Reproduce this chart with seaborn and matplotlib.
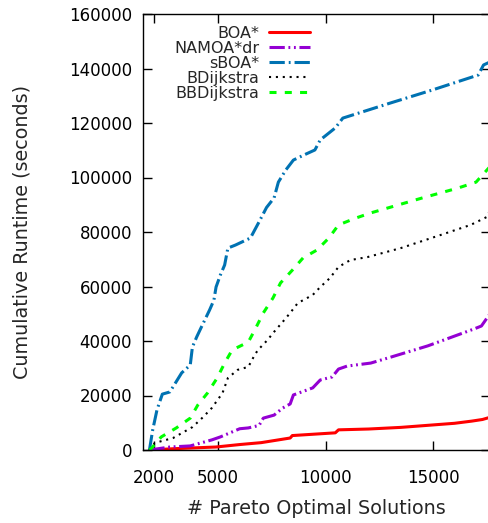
import seaborn as sns
import matplotlib.pyplot as plt

# values
boa_x = [1800, 3000, 4900, 6000, 7000, 8350, 8450, 10450, 10600, 12000, 13500, 15000, 16000, 16800, 17300, 17650]
boa_y = [0, 500, 1100, 2000, 2700, 4400, 5300, 6300, 7400, 7700, 8300, 9200, 9800, 10600, 11200, 12000]

namoa_x = [1800, 2750, 3700, 4700, 5100, 6000, 6400, 6900, 7100, 7600, 8000, 8350, 8500, 9400, 9750,
           10300, 10600, 11000, 12100, 13000, 14750, 16900, 17250, 17650]
namoa_y = [0, 1100, 1500, 3700, 4800, 7800, 8100, 9000, 11700, 12800, 15400, 16900, 20200, 22800, 25700,
           26800, 29700, 30800, 31900, 34000, 38200, 44400, 45500, 50000]

sboa_x = [1800, 1950, 2150, 2400, 2750, 3300, 3700, 3800, 4000, 4150, 4600, 4800, 4900, 5100, 5300, 5450,
          5800, 6500, 6900, 7250, 7600, 7800, 8150, 8500, 9000, 9500, 9750, 10450, 10800, 13000, 15000,
          17100, 17350, 17650]
sboa_y = [0, 7300, 14700, 20500, 21300, 28300, 31200, 37800, 41500, 44000, 51400, 55000, 59800, 64200,
          67900, 74100, 75200, 77800, 83700, 89000, 92500, 98300, 102800, 106400, 108300, 110100, 113800,
          118200, 121800, 127300, 132200, 137600, 141300, 142400]

bdij_x = [1800, 2050, 2900, 3800, 4300, 4700, 5200, 5450, 5900, 6400, 6700, 6850, 7300, 7550, 8000, 8350,
          8700, 9400, 9750, 10200, 10600, 11150, 11950, 13500, 15350, 16750, 17500, 17650]
bdij_y = [0, 2600, 4400, 8400, 12100, 15400, 20900, 26400, 29400, 30500, 34900, 36700, 40400, 42900,
          47000, 50300, 53900, 56900, 59800, 63100, 67200, 69700, 70800, 74100, 78900, 82600, 85500, 88000]

bbdij_x = [1800, 1900, 2350, 3050, 3700, 4050, 4500, 4950, 5300, 5650, 6400, 6700, 7100, 7550, 7900, 8450,
           8950, 9600, 10150, 10600, 11400, 12100, 14500, 16150, 17000, 17650]
bbdij_y = [0, 700, 4800, 8100, 11700, 16500, 20900, 26400, 31900, 36700, 39600, 44000, 50300, 55800,
           61300, 66000, 70500, 73400, 77800, 82600, 85100, 87000, 92500, 96100, 98300, 104000]

x_ticks = [2000, 5000, 10000, 15000]
y_ticks = list(range(0, 160001, 20000))

sns.set_style("ticks")
plt.rcParams['font.family'] = ['DejaVu Sans']

fig = plt.figure(figsize=(4.89, 5.23), dpi=100)
ax = fig.add_axes([143 / 489, 1 - 450 / 523, 347 / 489, 436 / 523])

series = [
    ("BOA*", boa_x, boa_y, "#ff0000", 2.2, "-"),
    ("NAMOA*dr", namoa_x, namoa_y, "#9400d3", 2.2, (0, (5, 1.2, 0.6, 1.2, 0.6, 1.2))),
    ("sBOA*", sboa_x, sboa_y, "#0072b2", 2.2, (0, (5, 1.3, 0.6, 1.3))),
    ("BDijkstra", bdij_x, bdij_y, "#000000", 1.5, (0, (1, 2.3))),
    ("BBDijkstra", bbdij_x, bbdij_y, "#00ff00", 2.2, (0, (2.3, 2.7))),
]
for name, xs, ys, col, lw, ls in series:
    sns.lineplot(x=xs, y=ys, ax=ax, color=col, linewidth=lw, linestyle=ls,
                 label=name, estimator=None, sort=False)

ax.set_xlim(1500, 17650)
ax.set_ylim(0, 160000)
ax.set_xticks(x_ticks)
ax.set_yticks(y_ticks)
ax.tick_params(direction="in", length=6.5, width=1, top=True, right=True,
               labelsize=12, colors="black")
ax.tick_params(axis="x", pad=13.5)
ax.tick_params(axis="y", pad=8)
for s in ax.spines.values():
    s.set_linewidth(1)
    s.set_color("black")

ax.set_xlabel("# Pareto Optimal Solutions", fontsize=13.8)
ax.set_ylabel("Cumulative Runtime (seconds)", fontsize=13.8)
ax.xaxis.set_label_coords(0.5, -0.112)
ax.yaxis.set_label_coords(-0.32, 0.5)

ax.legend(loc="upper left", bbox_to_anchor=(0.09, 0.9735), frameon=False,
          markerfirst=False, fontsize=11.5, labelspacing=0.0, handlelength=2.6,
          handletextpad=0.6, borderpad=0, borderaxespad=0)

fig.savefig("out.png", dpi=100)
